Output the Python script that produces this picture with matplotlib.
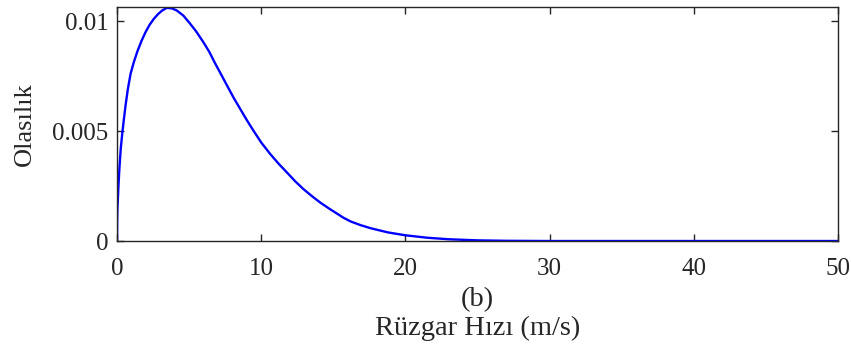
import matplotlib
matplotlib.use("Agg")
import matplotlib.pyplot as plt

wind_speed = [0, 0.01, 0.03, 0.06, 0.1, 0.17, 0.26, 0.36, 0.47, 0.59, 0.75, 0.94, 1.15, 1.4,
              1.7, 1.98, 2.25, 2.55, 2.85, 3.13, 3.45, 3.8, 4.15, 4.6, 5.06, 5.5, 6.0,
              6.4, 6.81, 7.2, 7.62, 8.1, 8.54, 9.0, 9.46, 10.0, 10.62, 11.2, 11.78, 12.35,
              12.93, 13.5, 14.09, 14.7, 15.25, 15.7, 16.2, 16.9, 17.6, 18.8, 20.0, 21.5,
              23.0, 25.0, 27.0, 30.0, 35.0, 40.0, 45.0, 50.0]
probability = [0, 0.0009, 0.0015, 0.0019, 0.0025, 0.00335, 0.0042, 0.00487, 0.0055, 0.00615,
               0.0069, 0.0076, 0.0081, 0.0086, 0.0091, 0.0095, 0.00982, 0.0101, 0.01032,
               0.01048, 0.0106, 0.01058, 0.01048, 0.01025, 0.00989, 0.00952, 0.00903,
               0.0086, 0.00807, 0.0076, 0.00708, 0.0065, 0.00601, 0.0055, 0.00502,
               0.00448, 0.00396, 0.00352, 0.00312, 0.00272, 0.00236, 0.00205, 0.00175,
               0.00148, 0.00125, 0.00106, 0.00089, 0.00072, 0.00058, 0.00039, 0.00026,
               0.00015, 0.00008, 0.00003, 0.00001, 0.0, 0.0, 0.0, 0.0, 0.0]

x_ticks = [0, 10, 20, 30, 40, 50]
y_ticks = [0, 0.005, 0.01]
y_tick_labels = ["0", "0.005", "0.01"]

plt.rcParams['font.family'] = ['Liberation Serif', 'DejaVu Serif']

fig = plt.figure(figsize=(8.51, 3.45), dpi=100)
ax = fig.add_axes([0.1375, 0.3014, 0.8472, 0.6783])
ax.plot(wind_speed, probability, color='#0000ff', lw=1.7)
ax.set_xlim(0, 50)
ax.set_ylim(0, 0.01064)
ax.set_xticks(x_ticks)
ax.set_xticklabels([str(t) for t in x_ticks])
ax.set_yticks(y_ticks)
ax.set_yticklabels(y_tick_labels)
ax.tick_params(direction='in', length=5, width=1, top=True, right=True,
               labelsize=18, colors='#262626')
ax.tick_params(axis='x', pad=12)
ax.tick_params(axis='y', pad=6)
for s in ax.spines.values():
    s.set_color('#262626')
    s.set_linewidth(1)
ax.set_xlabel("(b)\nRüzgar Hızı (m/s)", fontsize=20.5, color='#262626', labelpad=5.5,
              linespacing=1.17)
ax.set_ylabel("Olasılık", fontsize=19, color='#262626', labelpad=12)
fig.savefig("out.png", dpi=100)
